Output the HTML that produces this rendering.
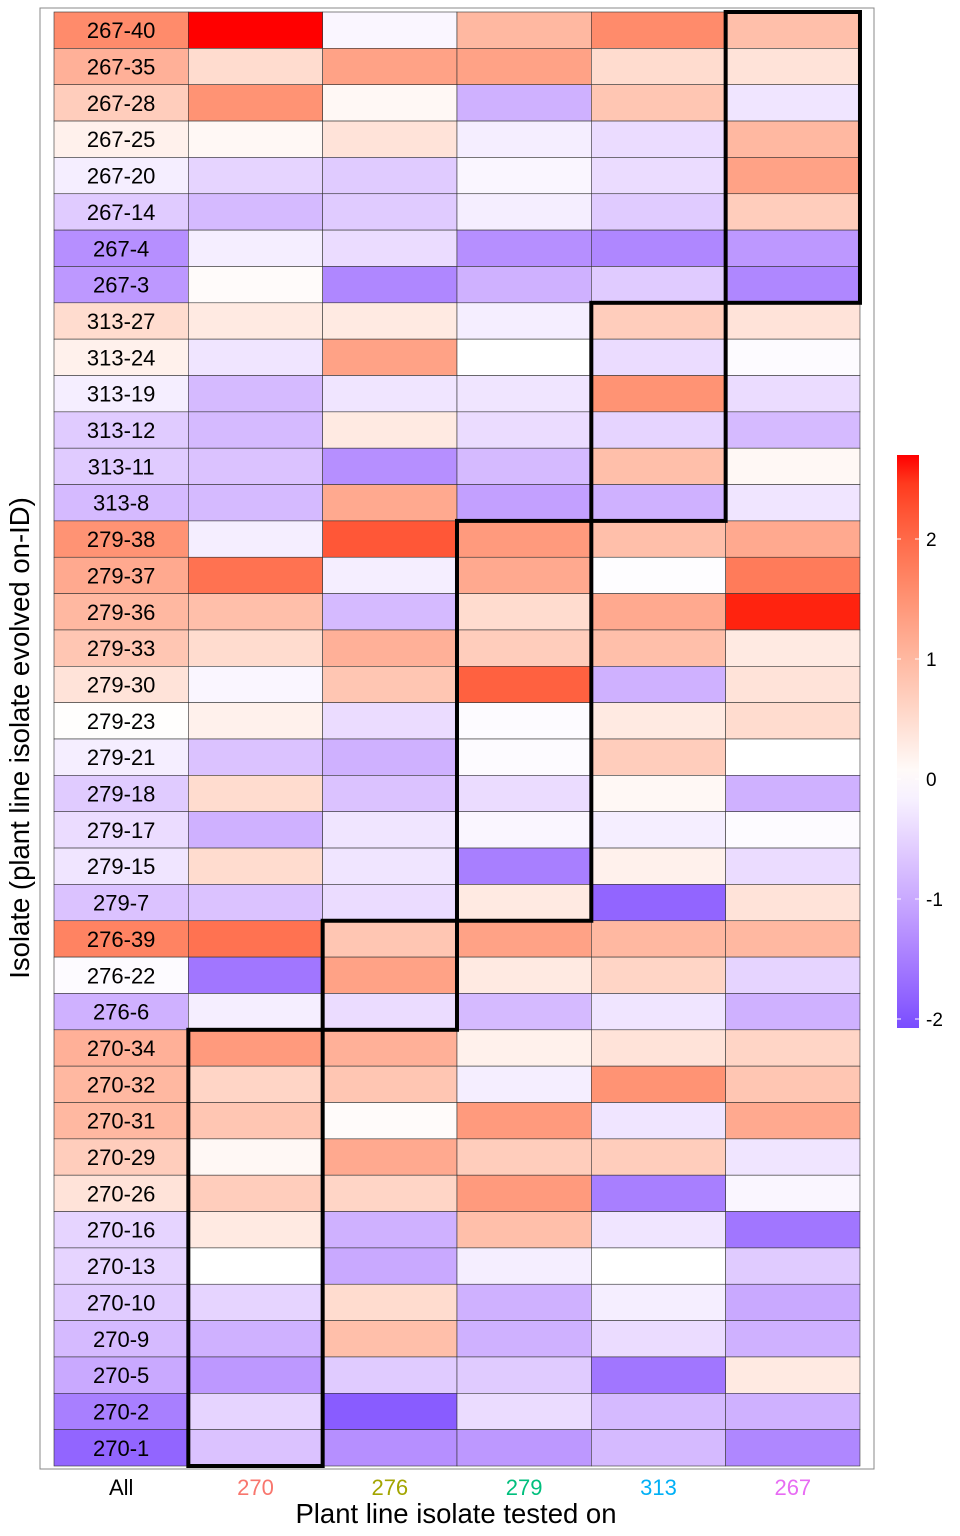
<!DOCTYPE html>
<html><head><meta charset="utf-8">
<style>
body{margin:0;background:#fff;}
svg{display:block;font-family:"Liberation Sans",Arial,sans-serif;}
</style></head>
<body>
<svg id="chart" width="960" height="1536" xmlns="http://www.w3.org/2000/svg">
<defs><linearGradient id="lg" x1="0" y1="1" x2="0" y2="0"></linearGradient></defs>
<rect x="40" y="8" width="834" height="1461" fill="#fff" stroke="#888" stroke-width="1"/>
<g id="cells"></g><g id="labels"></g><g id="boxes"></g><g id="xlabels"></g><g id="legend"></g>
<text x="456" y="1523" font-size="27.5" text-anchor="middle">Plant line isolate tested on</text>
<text transform="translate(29,738) rotate(-90)" font-size="27.5" text-anchor="middle">Isolate (plant line isolate evolved on-ID)</text>
</svg>
<script>
const rows=["267-40","267-35","267-28","267-25","267-20","267-14","267-4","267-3","313-27","313-24","313-19","313-12","313-11","313-8","279-38","279-37","279-36","279-33","279-30","279-23","279-21","279-18","279-17","279-15","279-7","276-39","276-22","276-6","270-34","270-32","270-31","270-29","270-26","270-16","270-13","270-10","270-9","270-5","270-2","270-1"];
const cols=["All","270","276","279","313","267"];
const colColors=["#000000","#F8766D","#A3A500","#00BF7D","#00B0F6","#E76BF3"];
const values=[
[1.6,2.7,-0.1,1.0,1.6,0.9],
[1.1,0.5,1.3,1.3,0.5,0.4],
[0.7,1.5,0.1,-0.9,0.8,-0.3],
[0.2,0.1,0.4,-0.2,-0.4,1.0],
[-0.2,-0.5,-0.6,-0.1,-0.4,1.3],
[-0.6,-0.8,-0.6,-0.2,-0.6,0.7],
[-1.3,-0.2,-0.4,-1.3,-1.4,-1.2],
[-1.2,0.05,-1.4,-0.9,-0.6,-1.4],
[0.5,0.3,0.3,-0.2,0.7,0.4],
[0.2,-0.3,1.3,0.0,-0.4,-0.05],
[-0.2,-0.8,-0.3,-0.3,1.5,-0.4],
[-0.6,-0.8,0.3,-0.4,-0.5,-0.8],
[-0.6,-0.7,-1.3,-0.8,0.9,0.1],
[-0.8,-0.8,1.2,-1.1,-0.9,-0.3],
[1.5,-0.2,2.2,1.4,0.9,1.2],
[1.2,1.9,-0.2,1.2,-0.02,1.8],
[1.0,0.9,-0.8,0.5,1.2,2.6],
[0.8,0.5,1.1,0.7,0.9,0.3],
[0.4,-0.1,0.8,2.1,-0.9,0.4],
[0.02,0.2,-0.4,-0.05,0.3,0.5],
[-0.2,-0.7,-0.9,-0.05,0.7,0.0],
[-0.6,0.5,-0.7,-0.4,0.1,-0.9],
[-0.4,-0.9,-0.3,-0.1,-0.2,-0.05],
[-0.3,0.5,-0.3,-1.5,0.2,-0.4],
[-0.7,-0.7,-0.4,0.3,-1.8,0.4],
[1.7,1.9,0.8,1.3,1.0,1.0],
[-0.05,-1.6,1.3,0.3,0.6,-0.5],
[-0.9,-0.2,-0.4,-0.8,-0.3,-0.9],
[1.1,1.4,1.1,0.2,0.4,0.6],
[1.0,0.6,0.8,-0.2,1.5,0.8],
[1.0,0.8,0.05,1.4,-0.3,1.2],
[0.7,0.1,1.2,0.7,0.7,-0.3],
[0.4,0.7,0.6,1.4,-1.5,-0.1],
[-0.5,0.3,-0.9,0.9,-0.3,-1.6],
[-0.5,0.0,-1.0,-0.2,0.0,-0.6],
[-0.6,-0.5,0.5,-0.9,-0.2,-1.0],
[-0.8,-0.9,0.9,-0.9,-0.4,-0.9],
[-1.0,-1.2,-0.6,-0.6,-1.6,0.3],
[-1.5,-0.5,-1.9,-0.4,-0.8,-0.9],
[-1.8,-0.7,-1.3,-1.2,-0.8,-1.4]];
const legendTicks=[-2,-1,0,1,2];
const boxes=[[5,0,8],[4,8,14],[3,14,25],[2,25,28],[1,28,40]];

const NS="http://www.w3.org/2000/svg";
const X0=54,CW=134.33,Y0=12,RH=36.35,LIM=2.7;
const xPos=c=>X0+c*CW, yPos=r=>Y0+r*RH;
function mk(t,a,p){const e=document.createElementNS(NS,t);for(const k in a)e.setAttribute(k,a[k]);p.appendChild(e);return e;}
function s2l(c){c/=255;return c<=0.04045?c/12.92:Math.pow((c+0.055)/1.055,2.4);}
function l2s(c){c=c<=0.0031308?12.92*c:1.055*Math.pow(c,1/2.4)-0.055;return Math.max(0,Math.min(255,Math.round(c*255)));}
function toLab(h){const r=s2l(parseInt(h.slice(1,3),16)),g=s2l(parseInt(h.slice(3,5),16)),b=s2l(parseInt(h.slice(5,7),16));
let x=(0.4124*r+0.3576*g+0.1805*b)/0.95047,y=0.2126*r+0.7152*g+0.0722*b,z=(0.0193*r+0.1192*g+0.9505*b)/1.08883;
const f=t=>t>0.008856?Math.cbrt(t):7.787*t+16/116;x=f(x);y=f(y);z=f(z);return[116*y-16,500*(x-y),200*(y-z)];}
function fromLab(L){let y=(L[0]+16)/116,x=L[1]/500+y,z=y-L[2]/200;const fi=t=>t*t*t>0.008856?t*t*t:(t-16/116)/7.787;
x=fi(x)*0.95047;y=fi(y);z=fi(z)*1.08883;
const r=3.2406*x-1.5372*y-0.4986*z,g=-0.9689*x+1.8758*y+0.0415*z,b=0.0557*x-0.2040*y+1.0570*z;
return "rgb("+l2s(r)+","+l2s(g)+","+l2s(b)+")";}
const LW=toLab("#ffffff"),LR=toLab("#ff0000"),LB=toLab("#0000ff");
function color(v){const t=Math.max(-1,Math.min(1,v/LIM));const e=t>=0?LR:LB,a=Math.abs(t);return fromLab([0,1,2].map(i=>LW[i]+(e[i]-LW[i])*a));}

const gc=document.getElementById('cells'),gl=document.getElementById('labels'),gb=document.getElementById('boxes'),gx=document.getElementById('xlabels'),gL=document.getElementById('legend');
rows.forEach((rn,r)=>{cols.forEach((cn,c)=>{
 const el=mk('rect',{x:xPos(c),y:yPos(r),width:CW,height:RH,fill:color(values[r][c]),stroke:'#333',"stroke-width":0.6},gc);
 
 
});
 const t=mk('text',{x:xPos(0)+CW/2,y:yPos(r)+RH/2+8,"font-size":22,"text-anchor":"middle"},gl);t.textContent=rn;
 
 
});
boxes.forEach(b=>{const el=mk('rect',{x:xPos(b[0]),y:yPos(b[1]),width:CW,height:(b[2]-b[1])*RH,fill:'none',stroke:'#000',"stroke-width":4},gb);
 
 
});
cols.forEach((cn,c)=>{const t=mk('text',{x:xPos(c)+CW/2,y:1495,"font-size":22,"text-anchor":"middle",fill:colColors[c]},gx);t.textContent=cn;
 
 
});
const lg=document.getElementById('lg');
for(let i=0;i<=20;i++){const v=-2.075+i/20*(2.7+2.075);mk('stop',{offset:(i/20),"stop-color":color(v)},lg);}
const ly=v=>779-v*120;
const bar=mk('rect',{x:897,y:ly(2.7),width:22,height:ly(-2.075)-ly(2.7),fill:'url(#lg)'},gL);


legendTicks.forEach(v=>{
 mk('line',{x1:897,x2:901,y1:ly(v),y2:ly(v),stroke:'#fff'},gL);mk('line',{x1:915,x2:919,y1:ly(v),y2:ly(v),stroke:'#fff'},gL);
 const t=mk('text',{x:926,y:ly(v)+7,"font-size":19},gL);t.textContent=v;
 
 
});
</script>
</body></html>
